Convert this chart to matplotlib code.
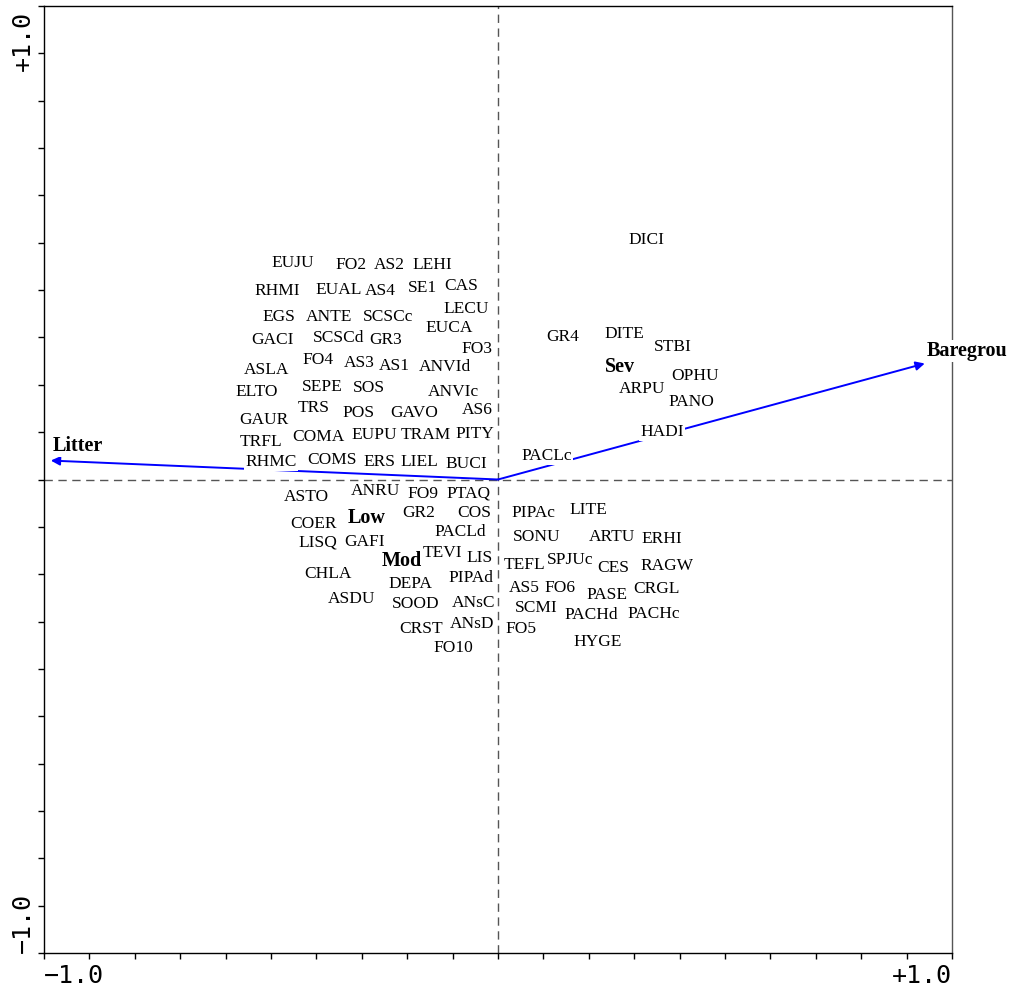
import numpy as np
import matplotlib
matplotlib.use('Agg')
import matplotlib.pyplot as plt

# species labels (ordination scores, label position)
species = ['EUJU','FO2','AS2','LEHI','RHMI','EUAL','AS4','SE1','CAS','LECU',
           'EGS','ANTE','SCSCc','EUCA','GACI','SCSCd','GR3','FO3','FO4','AS3',
           'AS1','ANVId','ASLA','ELTO','SEPE','SOS','ANVIc','TRS','POS','GAVO',
           'AS6','GAUR','COMA','EUPU','TRAM','PITY','TRFL','RHMC','COMS','ERS',
           'LIEL','BUCI','ANRU','FO9','PTAQ','ASTO','GR2','COS','COER','PACLd',
           'LISQ','GAFI','TEVI','LIS','CHLA','DEPA','PIPAd','ASDU','SOOD','ANsC',
           'CRST','ANsD','FO10','DICI','GR4','DITE','STBI','OPHU','ARPU','PANO',
           'HADI','PACLc','PIPAc','LITE','SONU','ARTU','ERHI','TEFL','SPJUc','CES',
           'RAGW','AS5','FO6','PASE','CRGL','SCMI','PACHd','PACHc','FO5','HYGE']
sp_x = [-0.452,-0.324,-0.240,-0.145,-0.487,-0.352,-0.260,-0.167,-0.081,-0.070,
        -0.482,-0.372,-0.242,-0.108,-0.496,-0.352,-0.247,-0.046,-0.396,-0.306,
        -0.229,-0.117,-0.509,-0.531,-0.388,-0.284,-0.099,-0.407,-0.308,-0.185,
        -0.046,-0.515,-0.396,-0.273,-0.159,-0.051,-0.522,-0.500,-0.366,-0.262,
        -0.174,-0.070,-0.269,-0.165,-0.064,-0.423,-0.174,-0.053,-0.407,-0.084,
        -0.396,-0.293,-0.123,-0.040,-0.374,-0.194,-0.059,-0.322,-0.181,-0.053,
        -0.170,-0.057,-0.099,0.326,0.143,0.278,0.385,0.434,0.317,0.427,
        0.361,0.108,0.079,0.200,0.086,0.251,0.361,0.059,0.159,0.253,
        0.372,0.057,0.137,0.240,0.350,0.084,0.205,0.344,0.051,0.220]
sp_y = [0.458,0.454,0.454,0.454,0.399,0.401,0.399,0.405,0.408,0.361,
        0.344,0.344,0.344,0.321,0.294,0.298,0.294,0.275,0.253,0.245,
        0.239,0.237,0.232,0.184,0.196,0.194,0.184,0.150,0.141,0.141,
        0.146,0.125,0.089,0.093,0.093,0.097,0.080,0.036,0.042,0.036,
        0.036,0.032,-0.025,-0.030,-0.030,-0.038,-0.070,-0.070,-0.093,-0.110,
        -0.133,-0.131,-0.156,-0.165,-0.199,-0.220,-0.209,-0.253,-0.262,-0.260,
        -0.315,-0.306,-0.355,0.505,0.302,0.308,0.279,0.218,0.192,0.163,
        0.101,0.049,-0.070,-0.065,-0.122,-0.122,-0.125,-0.180,-0.171,-0.186,
        -0.182,-0.230,-0.230,-0.243,-0.232,-0.272,-0.287,-0.283,-0.315,-0.344]

# nominal (sample class) centroids
classes = ['Sev','Low','Mod']
cls_x = [0.269,-0.289,-0.211]
cls_y = [0.237,-0.082,-0.173]

# environmental variables (arrows)
env = ['Litter','Baregrou']
env_x = [-0.985,0.940]
env_y = [0.040,0.245]
env_lab_x = [-0.925,1.033]
env_lab_y = [0.070,0.272]

fig = plt.figure(figsize=(10.13,9.92), dpi=100)
ax = fig.add_axes([44/1013, 1-953/992, 908/1013, 947/992])
ax.set_xlim(-1,1); ax.set_ylim(-1,1)

ax.axhline(0, color='#555555', lw=1.0, ls=(0,(6,4)), zorder=1)
ax.axvline(0, color='#555555', lw=1.0, ls=(0,(6,4)), zorder=1)

for i in range(len(env)):
    ax.annotate('', xy=(env_x[i],env_y[i]), xytext=(0,0),
                arrowprops=dict(arrowstyle='-|>', color='#0000ff', lw=1.4,
                                mutation_scale=13, shrinkA=0, shrinkB=0),
                zorder=2)
    ax.text(env_lab_x[i], env_lab_y[i], env[i], fontsize=14.5, fontweight='bold',
            family='Liberation Serif', ha='center', va='center', clip_on=False,
            zorder=6, bbox=dict(boxstyle='square,pad=0.05', fc='white', ec='none'))

for s,x,y in zip(species,sp_x,sp_y):
    ax.text(x, y, s, fontsize=12.5, family='Liberation Serif', ha='center', va='center',
            zorder=5, bbox=dict(boxstyle='square,pad=0.05', fc='white', ec='none'))

for s,x,y in zip(classes,cls_x,cls_y):
    ax.text(x, y, s, fontsize=14.5, fontweight='bold', family='Liberation Serif',
            ha='center', va='center', zorder=5,
            bbox=dict(boxstyle='square,pad=0.05', fc='white', ec='none'))

ax.set_xticks(np.linspace(-1,1,21)); ax.set_yticks(np.linspace(-1,1,21))
ax.set_xticklabels([]); ax.set_yticklabels([])
ax.tick_params(direction='out', length=4, width=1.0, top=False, right=False)
for sp in ax.spines.values():
    sp.set_linewidth(1.0)
ax.spines['right'].set_color('#555555')

mono = dict(family='DejaVu Sans Mono', fontsize=18)
ax.text(0.0, -0.012, '\u22121.0', transform=ax.transAxes, ha='left', va='top', **mono)
ax.text(1.0, -0.012, '+1.0', transform=ax.transAxes, ha='right', va='top', **mono)
ax.text(-0.023, 0.995, '+1.0', transform=ax.transAxes, ha='center', va='top', rotation=90, **mono)
ax.text(-0.023, 0.0, '\u22121.0', transform=ax.transAxes, ha='center', va='bottom', rotation=90, **mono)

fig.savefig('out.png', dpi=100)
